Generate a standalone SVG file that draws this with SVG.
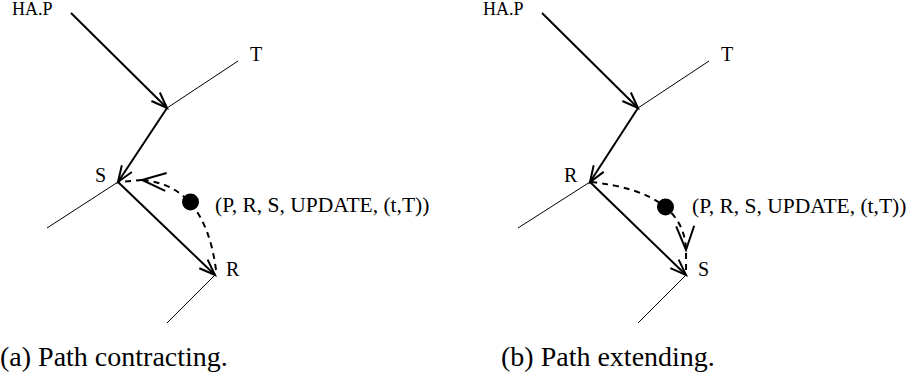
<svg xmlns="http://www.w3.org/2000/svg" width="914" height="385" viewBox="0 0 914 385" font-family="'Liberation Serif', 'DejaVu Serif', 'Times New Roman', serif">
<style>
text{font-family:'Liberation Serif','DejaVu Serif','Times New Roman',serif;fill:#000}
.lbl{font-size:20px}
.hap{font-size:18px}
.msg{font-size:21.5px}
.cap{font-size:28px}
.bold{stroke:#000;stroke-width:2;fill:none}
.thin{stroke:#000;stroke-width:1;fill:none}
.dash{stroke:#000;stroke-width:2;fill:none;stroke-dasharray:6 5}
</style>
<defs>
<marker id="arr" markerUnits="userSpaceOnUse" orient="auto" markerWidth="24" markerHeight="20" viewBox="-20 -10 24 20" refX="0" refY="0" overflow="visible">
<path d="M-16,-6 L0,0 L-16,6" fill="none" stroke="#000" stroke-width="2"/>
</marker>
<marker id="darr" markerUnits="userSpaceOnUse" orient="auto" markerWidth="30" markerHeight="24" viewBox="-28 -12 30 24" refX="0" refY="0" overflow="visible">
<path d="M-24,-9 L0,0 L-24,9" fill="none" stroke="#000" stroke-width="2"/>
</marker>
</defs>

<g id="connectors">
<line class="bold" x1="71" y1="13" x2="167" y2="108" marker-end="url(#arr)"/>
<line class="thin" x1="167" y1="108" x2="238" y2="61"/>
<line class="bold" x1="167" y1="108" x2="118" y2="182" marker-end="url(#arr)"/>
<line class="thin" x1="118" y1="182" x2="47" y2="228"/>
<line class="bold" x1="118" y1="182" x2="215" y2="275" marker-end="url(#arr)"/>
<line class="thin" x1="215" y1="275" x2="167" y2="323"/>
<path class="dash" d="M216,270 Q205,185 142,180" marker-end="url(#darr)"/>
<line class="dash" x1="142" y1="180" x2="118" y2="182"/>
<line class="bold" x1="542" y1="13" x2="638" y2="108" marker-end="url(#arr)"/>
<line class="thin" x1="638" y1="108" x2="709" y2="61"/>
<line class="bold" x1="638" y1="108" x2="590" y2="182" marker-end="url(#arr)"/>
<line class="thin" x1="590" y1="182" x2="518" y2="228"/>
<line class="bold" x1="590" y1="182" x2="686" y2="275" marker-end="url(#arr)"/>
<line class="thin" x1="686" y1="275" x2="638" y2="323"/>
<path class="dash" d="M591,182 Q684,192 686,250" marker-end="url(#darr)"/>
<line class="dash" x1="686" y1="253" x2="686" y2="275"/>
</g>

<g id="a-hap"><text class="hap" x="12" y="15">HA.P</text></g>
<g id="a-T"><text class="lbl" x="250" y="61">T</text></g>
<g id="a-S"><text class="lbl" x="95" y="182">S</text></g>
<g id="a-R"><text class="lbl" x="226" y="276">R</text></g>
<g id="a-msg">
<circle cx="190.5" cy="202" r="8.5" fill="#000"/>
<text class="msg" x="215" y="212">(P, R, S, UPDATE, (t,T))</text>
</g>

<g id="b-hap"><text class="hap" x="483" y="15">HA.P</text></g>
<g id="b-T"><text class="lbl" x="721" y="61">T</text></g>
<g id="b-R"><text class="lbl" x="564" y="182">R</text></g>
<g id="b-S"><text class="lbl" x="698" y="276">S</text></g>
<g id="b-msg">
<circle cx="665.5" cy="207" r="8.5" fill="#000"/>
<text class="msg" x="692" y="213">(P, R, S, UPDATE, (t,T))</text>
</g>

<g id="captions">
<text class="cap" x="0" y="366">(a) Path contracting.</text>
<text class="cap" x="501" y="366">(b) Path extending.</text>
</g>
</svg>
